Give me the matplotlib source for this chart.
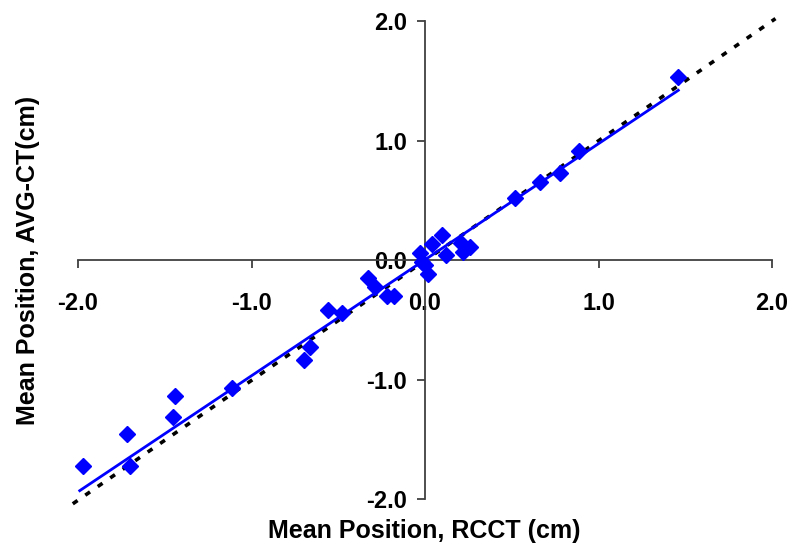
import matplotlib
matplotlib.use('Agg')
import matplotlib.pyplot as plt

plt.rcParams['font.family'] = ['Liberation Sans', 'DejaVu Sans']
plt.rcParams['font.weight'] = 'bold'

## measured mean positions (cm)
rcct = [-1.97, -1.72, -1.70, -1.44, -1.45, -1.11, -0.70, -0.66, -0.56, -0.48,
        -0.33, -0.29, -0.22, -0.18, -0.03, -0.02, 0.00, 0.02, 0.04, 0.10,
        0.12, 0.21, 0.22, 0.26, 0.52, 0.66, 0.78, 0.89, 1.46]
avgct = [-1.72, -1.46, -1.72, -1.14, -1.31, -1.07, -0.84, -0.73, -0.42, -0.44,
         -0.15, -0.23, -0.30, -0.30, 0.06, -0.02, -0.04, -0.12, 0.13, 0.21,
         0.04, 0.14, 0.07, 0.11, 0.52, 0.65, 0.73, 0.91, 1.53]

## regression line and identity line end points
fit_x = [-1.99, 1.46]
fit_y = [-1.93, 1.42]
ident_x = [-2.03, 2.02]
ident_y = [-2.04, 2.02]

ticks = [-2.0, -1.0, 0.0, 1.0, 2.0]
tick_labels = ['-2.0', '-1.0', '0.0', '1.0', '2.0']

fig = plt.figure(figsize=(8, 5.6), dpi=100)
ax = fig.add_axes([0.0975, 0.1089, 0.8675, 0.8536])

ax.plot(ident_x, ident_y, color='black', lw=2.6, linestyle=(0, (1.6, 2.6)),
        clip_on=False, zorder=2)
ax.plot(fit_x, fit_y, color='#0000FF', lw=2.0, clip_on=False, zorder=3)
ax.plot(rcct, avgct, linestyle='none', marker='D', ms=8.5, color='#0000FF',
        clip_on=False, zorder=4)

ax.set_xlim(-2, 2)
ax.set_ylim(-2, 2)

for s in ['top', 'right']:
    ax.spines[s].set_visible(False)
ax.spines['left'].set_position(('data', 0))
ax.spines['bottom'].set_position(('data', 0))
for s in ['left', 'bottom']:
    ax.spines[s].set_color('#404040')
    ax.spines[s].set_linewidth(1.3)

ax.set_xticks(ticks)
ax.set_xticklabels(tick_labels)
ax.set_yticks(ticks)
ax.set_yticklabels(tick_labels)
ax.tick_params(axis='x', direction='out', length=6, width=1.3, color='#404040',
               pad=17, labelsize=17)
ax.tick_params(axis='y', direction='out', length=6, width=1.3, color='#404040',
               pad=7, labelsize=17)

fig.text(0.53, 0.052, 'Mean Position, RCCT (cm)', ha='center', va='center',
         fontsize=18, fontweight='bold')
fig.text(0.035, 0.535, 'Mean Position, AVG-CT(cm)', ha='center', va='center',
         rotation=90, fontsize=18, fontweight='bold')

fig.savefig('out.png', dpi=100)
